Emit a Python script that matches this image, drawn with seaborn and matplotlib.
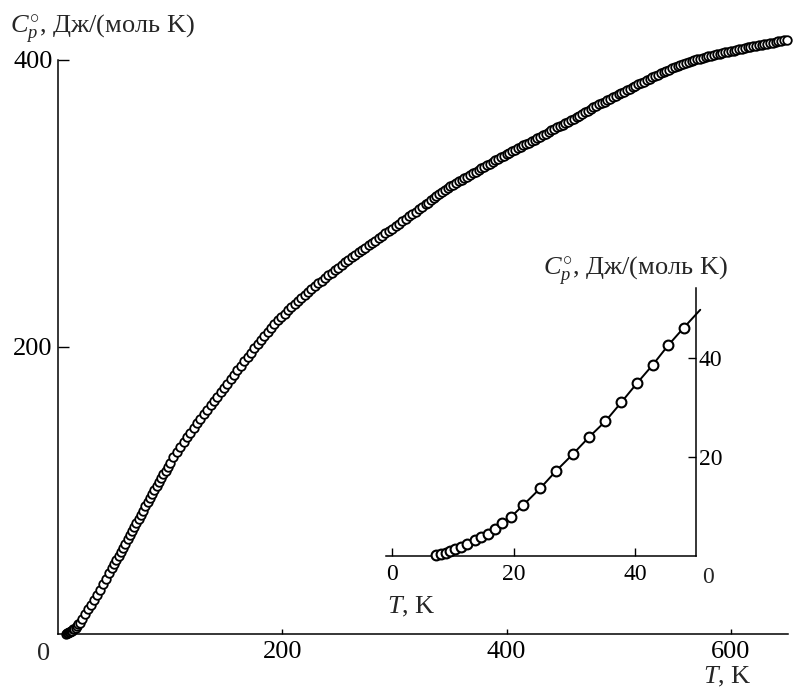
import matplotlib
matplotlib.use("Agg")
import matplotlib.pyplot as plt
import seaborn as sns

# Low-temperature heat capacity points (also shown in the inset), T in K, Cp in J/(mol K)
t_low = [7.2, 8.0, 8.8, 9.6, 10.4, 11.3, 12.4, 13.7, 14.7, 15.8, 16.9, 18.1,
         19.5, 21.6, 24.4, 27.0, 29.7, 32.4, 35.1, 37.7, 40.3, 42.9, 45.4, 48.0]
cp_low = [0.2, 0.5, 0.7, 1.1, 1.5, 1.9, 2.4, 3.2, 3.8, 4.4, 5.5, 6.7,
          7.8, 10.3, 13.7, 17.2, 20.5, 24.0, 27.2, 31.0, 34.9, 38.6, 42.5, 46.1]

# Smoothed curve through the inset points, continued to the frame edge
t_fit = t_low + [50.7]
cp_fit = cp_low + [49.7]

# Adiabatic calorimetry, 50-100 K
t_rise = [50, 52, 54, 56, 58, 60, 62, 64, 66, 68, 70, 72, 74,
          76, 78, 80, 82, 84, 86, 88, 90, 92, 94, 96, 98, 100]
cp_rise = [49.0, 51.8, 54.6, 57.4, 60.2, 63.0, 65.9, 68.8, 71.6, 74.5, 77.4, 80.3, 83.2,
           86.0, 88.9, 91.8, 94.6, 97.4, 100.2, 103.0, 105.8, 108.5, 111.2, 113.9, 116.6, 119.2]

# Adiabatic calorimetry, 103-328 K
t_mid = [103, 106, 109, 112, 115, 118, 121, 124, 127, 130,
         133, 136, 139, 142, 145, 148, 151, 154, 157, 160,
         163, 166, 169, 172, 175, 178, 181, 184, 187, 190,
         193, 196, 199, 202, 205, 208, 211, 214, 217, 220,
         223, 226, 229, 232, 235, 238, 241, 244, 247, 250,
         253, 256, 259, 262, 265, 268, 271, 274, 277, 280,
         283, 286, 289, 292, 295, 298, 301, 304, 307, 310,
         313, 316, 319, 322, 325, 328]
cp_mid = [123.0, 126.7, 130.2, 133.7, 137.1, 140.4, 143.7, 146.9, 150.1, 153.3,
          156.4, 159.5, 162.5, 165.5, 168.5, 171.5, 174.5, 177.6, 180.7, 183.8,
          186.8, 189.9, 193.0, 196.0, 199.0, 202.0, 204.9, 207.8, 210.6, 213.3,
          216.0, 218.6, 221.0, 223.3, 225.6, 227.8, 230.0, 232.2, 234.3, 236.4,
          238.4, 240.4, 242.4, 244.3, 246.2, 248.1, 249.9, 251.8, 253.6, 255.4,
          257.2, 259.0, 260.8, 262.5, 264.2, 265.9, 267.6, 269.2, 270.9, 272.5,
          274.1, 275.8, 277.4, 279.1, 280.8, 282.5, 284.2, 285.9, 287.6, 289.3,
          291.0, 292.7, 294.4, 296.1, 297.8, 299.5]

# Differential scanning calorimetry, 330-650 K
t_high = [330.0, 332.5, 335.0, 337.5, 340.0, 342.5, 345.0, 347.5,
          350.0, 352.5, 355.0, 357.5, 360.0, 362.5, 365.0, 367.5,
          370.0, 372.5, 375.0, 377.5, 380.0, 382.5, 385.0, 387.5,
          390.0, 392.5, 395.0, 397.5, 400.0, 402.5, 405.0, 407.5,
          410.0, 412.5, 415.0, 417.5, 420.0, 422.5, 425.0, 427.5,
          430.0, 432.5, 435.0, 437.5, 440.0, 442.5, 445.0, 447.5,
          450.0, 452.5, 455.0, 457.5, 460.0, 462.5, 465.0, 467.5,
          470.0, 472.5, 475.0, 477.5, 480.0, 482.5, 485.0, 487.5,
          490.0, 492.5, 495.0, 497.5, 500.0, 502.5, 505.0, 507.5,
          510.0, 512.5, 515.0, 517.5, 520.0, 522.5, 525.0, 527.5,
          530.0, 532.5, 535.0, 537.5, 540.0, 542.5, 545.0, 547.5,
          550.0, 552.5, 555.0, 557.5, 560.0, 562.5, 565.0, 567.5,
          570.0, 572.5, 575.0, 577.5, 580.0, 582.5, 585.0, 587.5,
          590.0, 592.5, 595.0, 597.5, 600.0, 602.5, 605.0, 607.5,
          610.0, 612.5, 615.0, 617.5, 620.0, 622.5, 625.0, 627.5,
          630.0, 632.5, 635.0, 637.5, 640.0, 642.5, 645.0, 647.5,
          650.0]
cp_high = [300.6, 302.1, 303.6, 305.0, 306.5, 307.9, 309.3, 310.6,
           312.0, 313.1, 314.2, 315.4, 316.5, 317.6, 318.7, 319.9,
           321.0, 322.1, 323.2, 324.4, 325.5, 326.6, 327.7, 328.9,
           330.0, 331.1, 332.2, 333.4, 334.5, 335.5, 336.5, 337.5,
           338.5, 339.5, 340.5, 341.5, 342.5, 343.5, 344.5, 345.5,
           346.5, 347.6, 348.7, 349.9, 351.0, 352.0, 353.0, 354.0,
           355.0, 356.0, 357.0, 358.0, 359.0, 360.1, 361.2, 362.4,
           363.5, 364.6, 365.8, 366.9, 368.0, 369.0, 370.0, 371.0,
           372.0, 373.0, 374.0, 375.0, 376.0, 377.0, 378.0, 379.0,
           380.0, 381.0, 382.0, 383.0, 384.0, 385.0, 386.0, 387.0,
           388.0, 388.9, 389.8, 390.6, 391.5, 392.4, 393.3, 394.1,
           395.0, 395.8, 396.5, 397.3, 398.0, 398.7, 399.3, 399.9,
           400.5, 401.0, 401.5, 402.0, 402.5, 403.0, 403.5, 404.0,
           404.5, 404.9, 405.3, 405.7, 406.1, 406.6, 407.1, 407.6,
           408.0, 408.4, 408.8, 409.2, 409.6, 410.0, 410.3, 410.7,
           411.0, 411.4, 411.8, 412.1, 412.5, 412.9, 413.2, 413.6,
           414.0]

main_xticks = [200, 400, 600]
main_yticks = [200, 400]
inset_xticks = [0, 20, 40]
inset_yticks = [20, 40]

cp_label = "$C_p^{\\circ}$, Дж/(моль K)"
t_label = "$T$, K"

sns.set_style("ticks")
plt.rcParams["font.family"] = ["Liberation Serif", "DejaVu Serif"]
plt.rcParams["mathtext.fontset"] = "custom"
plt.rcParams["mathtext.rm"] = "Liberation Serif"
plt.rcParams["mathtext.it"] = "Liberation Serif:italic"
plt.rcParams["axes.linewidth"] = 1.1
plt.rcParams["axes.edgecolor"] = "black"

W, H = 797, 689
fig = plt.figure(figsize=(W / 100, H / 100), dpi=100)


def px_text(x, y, s, **kw):
    """Place text using pixel coordinates measured from the top-left corner."""
    fig.text(x / W, 1 - y / H, s, **kw)


# ---- main panel ----
ax = fig.add_axes([58 / W, 55 / H, 730 / W, 602.7 / H])
t_all = t_low + t_rise + t_mid + t_high
cp_all = cp_low + cp_rise + cp_mid + cp_high
sns.scatterplot(x=t_all, y=cp_all, ax=ax, s=38, color="white",
                edgecolor="black", linewidth=1.3, legend=False, zorder=3)
ax.collections[-1].set_clip_on(False)
ax.set_xlim(0, 651)
ax.set_ylim(0, 420)
ax.spines["top"].set_visible(False)
ax.spines["right"].set_visible(False)
ax.spines["left"].set_bounds(0, 400)
ax.set_xticks(main_xticks)
ax.set_yticks(main_yticks)
ax.set_xticklabels([str(v) for v in main_xticks])
ax.set_yticklabels([str(v) for v in main_yticks])
ax.tick_params(axis="x", direction="in", length=3.6, width=1.0, pad=5,
               labelsize=19, colors="black")
ax.tick_params(axis="y", direction="in", length=8, width=1.0, pad=4,
               labelsize=19, colors="black")
ax.set_xlabel("")
ax.set_ylabel("")

px_text(10, 33, cp_label, fontsize=19, ha="left", va="baseline")
px_text(44, 660, "0", fontsize=19, ha="center", va="baseline")
px_text(727, 683, t_label, fontsize=19, ha="center", va="baseline")

# ---- inset: low-temperature region ----
ax2 = fig.add_axes([386 / W, (H - 556) / H, 310 / W, 268 / H])
sns.lineplot(x=t_fit, y=cp_fit, ax=ax2, color="black", linewidth=1.4,
             sort=False, estimator=None, zorder=2)
ax2.lines[-1].set_clip_on(False)
sns.scatterplot(x=t_low, y=cp_low, ax=ax2, s=50, color="white",
                edgecolor="black", linewidth=1.5, legend=False, zorder=3)
ax2.collections[-1].set_clip_on(False)
ax2.set_xlim(-1, 50)
ax2.set_ylim(0, 54.1)
ax2.patch.set_alpha(0)
ax2.spines["top"].set_visible(False)
ax2.spines["left"].set_visible(False)
ax2.yaxis.tick_right()
ax2.set_xticks(inset_xticks)
ax2.set_yticks(inset_yticks)
ax2.set_xticklabels([str(v) for v in inset_xticks])
ax2.set_yticklabels([str(v) for v in inset_yticks])
ax2.tick_params(axis="x", direction="in", length=6, width=1.0, pad=6,
                labelsize=17, colors="black")
ax2.tick_params(axis="y", direction="in", length=6, width=1.0, pad=2,
                labelsize=17, colors="black")
ax2.set_xlabel("")
ax2.set_ylabel("")

px_text(728, 275, cp_label, fontsize=19, ha="right", va="baseline")
px_text(708, 583, "0", fontsize=17, ha="center", va="baseline")
px_text(387, 613, t_label, fontsize=19, ha="left", va="baseline")

fig.savefig("out.png", dpi=100)
